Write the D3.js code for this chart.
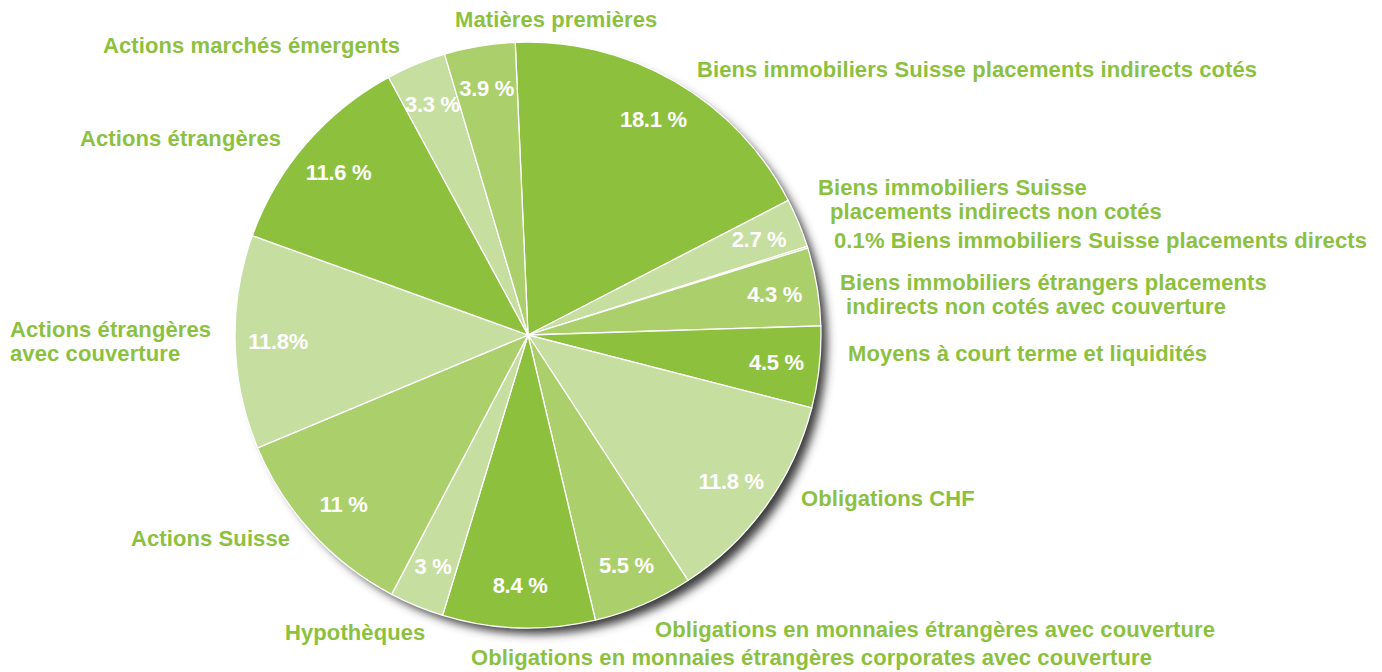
<!DOCTYPE html>
<html>
<head>
<meta charset="utf-8">
<script src="https://cdn.jsdelivr.net/npm/d3@7"></script>
<style>
  body { margin: 0; background: #fff; }
  svg text { font-family: "Liberation Sans", Arial, sans-serif; font-weight: bold; }
</style>
</head>
<body>
<svg id="chart" width="1382" height="672"></svg>
<script>
// Allocation breakdown, clockwise from the top
const categories = [
  "Biens immobiliers Suisse placements indirects cotés",
  "Biens immobiliers Suisse placements indirects non cotés",
  "Biens immobiliers Suisse placements directs",
  "Biens immobiliers étrangers placements indirects non cotés avec couverture",
  "Moyens à court terme et liquidités",
  "Obligations CHF",
  "Obligations en monnaies étrangères avec couverture",
  "Obligations en monnaies étrangères corporates avec couverture",
  "Hypothèques",
  "Actions Suisse",
  "Actions étrangères avec couverture",
  "Actions étrangères",
  "Actions marchés émergents",
  "Matières premières"
];
const values = [18.1, 2.7, 0.1, 4.3, 4.5, 11.8, 5.5, 8.4, 3, 11, 11.8, 11.6, 3.3, 3.9];
const valueLabels = ["18.1 %", "2.7 %", "", "4.3 %", "4.5 %", "11.8 %", "5.5 %", "8.4 %", "3 %", "11 %", "11.8%", "11.6 %", "3.3 %", "3.9 %"];
const shades = ["dark", "light", "mid", "mid", "dark", "light", "mid", "dark", "light", "mid", "light", "dark", "light", "mid"];

// outside label lines (text split as in the original) and where they sit
const outerLabels = [
  { lines: ["Biens immobiliers Suisse placements indirects cotés"], x: 697, y: 77, dx: [0] },
  { lines: ["Biens immobiliers Suisse", "placements indirects non cotés"], x: 818, y: 195, dx: [0, 12] },
  { lines: ["0.1% Biens immobiliers Suisse placements directs"], x: 834, y: 248, dx: [0] },
  { lines: ["Biens immobiliers étrangers placements", "indirects non cotés avec couverture"], x: 840, y: 290, dx: [0, 6] },
  { lines: ["Moyens à court terme et liquidités"], x: 848, y: 361, dx: [0] },
  { lines: ["Obligations CHF"], x: 801, y: 506, dx: [0] },
  { lines: ["Obligations en monnaies étrangères avec couverture"], x: 655, y: 637, dx: [0] },
  { lines: ["Obligations en monnaies étrangères corporates avec couverture"], x: 471, y: 665, dx: [0] },
  { lines: ["Hypothèques"], x: 285, y: 640, dx: [0] },
  { lines: ["Actions Suisse"], x: 131, y: 546, dx: [0] },
  { lines: ["Actions étrangères", "avec couverture"], x: 10, y: 337, dx: [0, 0] },
  { lines: ["Actions étrangères"], x: 80, y: 146, dx: [0] },
  { lines: ["Actions marchés émergents"], x: 103, y: 53, dx: [0] },
  { lines: ["Matières premières"], x: 455, y: 27, dx: [0] }
];

const svg = d3.select("#chart");
const cx = 528, cy = 335, radius = 293;
const green = "#8cc13f";

const color = d3.scaleOrdinal()
  .domain(["dark", "mid", "light"])
  .range(["#8dc13d", "#abcf6b", "#c6dea0"]);

// drop shadow behind the pie
const defs = svg.append("defs");
const filter = defs.append("filter")
  .attr("id", "shadow")
  .attr("x", "-20%").attr("y", "-20%")
  .attr("width", "140%").attr("height", "140%");
filter.append("feDropShadow")
  .attr("dx", 8).attr("dy", 8)
  .attr("stdDeviation", 5)
  .attr("flood-color", "#3a3a3a")
  .attr("flood-opacity", 1);

const pie = d3.pie()
  .sort(null)
  .value(d => d)
  .startAngle(-2.5 * Math.PI / 180)
  .endAngle(2 * Math.PI - 2.5 * Math.PI / 180);

const arcs = pie(values);
const arc = d3.arc().innerRadius(0).outerRadius(radius);
const labelArc = d3.arc().innerRadius(250).outerRadius(250);

const g = svg.append("g").attr("transform", `translate(${cx},${cy})`);

// shadow disc
g.append("circle")
  .attr("r", radius - 2)
  .attr("fill", "#fff")
  .attr("filter", "url(#shadow)");

g.selectAll("path.slice")
  .data(arcs)
  .join("path")
  .attr("class", "slice")
  .attr("d", arc)
  .attr("fill", (d, i) => color(shades[i]))
  .attr("stroke", "#fff")
  .attr("stroke-width", 1.3);

// percentages inside the slices
g.selectAll("text.pct")
  .data(arcs)
  .join("text")
  .attr("class", "pct")
  .attr("transform", d => `translate(${labelArc.centroid(d)})`)
  .attr("text-anchor", "middle")
  .attr("dy", "0.36em")
  .attr("fill", "#fff")
  .style("font-size", "22px")
  .style("letter-spacing", "-0.3px")
  .text((d, i) => valueLabels[i]);

// category labels around the pie
outerLabels.forEach(l => {
  const t = svg.append("text")
    .attr("x", l.x)
    .attr("y", l.y)
    .attr("fill", green)
    .style("font-size", "22px")
    .style("letter-spacing", "0.1px");
  l.lines.forEach((line, j) => {
    t.append("tspan")
      .attr("x", l.x + l.dx[j])
      .attr("dy", j === 0 ? 0 : 24)
      .text(line);
  });
});
</script>
</body>
</html>
